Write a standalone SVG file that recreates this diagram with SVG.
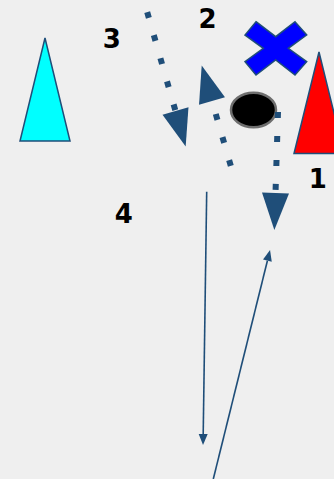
<svg xmlns="http://www.w3.org/2000/svg" width="334" height="479" viewBox="0 0 334 479">
<style>
.lbl{font-family:"DejaVu Sans","Liberation Sans",sans-serif;font-weight:bold;font-size:26px;fill:#000;text-anchor:middle}
.dot{fill:none;stroke:#1F4E79;stroke-width:6;stroke-dasharray:6 18}
.thin{fill:none;stroke:#1F4E79;stroke-width:1.6}
.edge{stroke:#1F4E79;stroke-width:1.5;stroke-linejoin:miter}
</style>
<defs>
<marker id="big" markerUnits="userSpaceOnUse" markerWidth="40" markerHeight="30" refX="0" refY="13.5" orient="auto" overflow="visible">
<path d="M0,0 L37,13.5 L0,27 z" fill="#1F4E79"/>
</marker>
<marker id="small" markerUnits="userSpaceOnUse" markerWidth="12" markerHeight="10" refX="0" refY="4.5" orient="auto" overflow="visible">
<path d="M0,0 L11,4.5 L0,9 z" fill="#1F4E79"/>
</marker>
<filter id="soft" x="-10%" y="-10%" width="120%" height="120%"><feGaussianBlur stdDeviation="0.4"/></filter>
</defs>
<rect x="0" y="0" width="334" height="479" fill="#EFEFEF"/>
<g id="cone-cyan"><polygon class="edge" points="45,38 20,141 70,141" fill="#00FFFF"/></g>
<g id="cone-red"><polygon class="edge" points="319,52 294,153.5 344,153.5" fill="#FF0000"/></g>
<g id="cross"><polygon class="edge" fill="#0000FF" points="256,21.7 275.7,36.7 295,21.7 306.7,35 288.3,48.3 306.7,61.7 295,75 275.7,60 256,75 245,61.7 263.3,48.3 245,35"/></g>
<g id="ball"><ellipse cx="253.5" cy="110" rx="22.5" ry="17.3" fill="#000" stroke="#6E6E6E" stroke-width="2.5"/></g>
<g id="label-1"><text class="lbl" x="317.7" y="187.7">1</text></g>
<g id="label-2"><text class="lbl" x="207.5" y="27.7">2</text></g>
<g id="label-3"><text class="lbl" x="111.7" y="48">3</text></g>
<g id="label-4"><text class="lbl" x="123.8" y="223.3">4</text></g>
<g id="connectors">
<line class="dot" x1="147.2" y1="12.1" x2="175.5" y2="111" marker-end="url(#big)"/>
<line class="dot" x1="230.8" y1="165.9" x2="212" y2="101" marker-end="url(#big)"/>
<line class="dot" x1="278" y1="112" x2="275.5" y2="193" marker-end="url(#big)"/>
<line class="thin" x1="206.7" y1="191.7" x2="203.2" y2="434" marker-end="url(#small)"/>
<line class="thin" x1="213.3" y1="479" x2="267.4" y2="260.7" marker-end="url(#small)"/>
</g>
</svg>
